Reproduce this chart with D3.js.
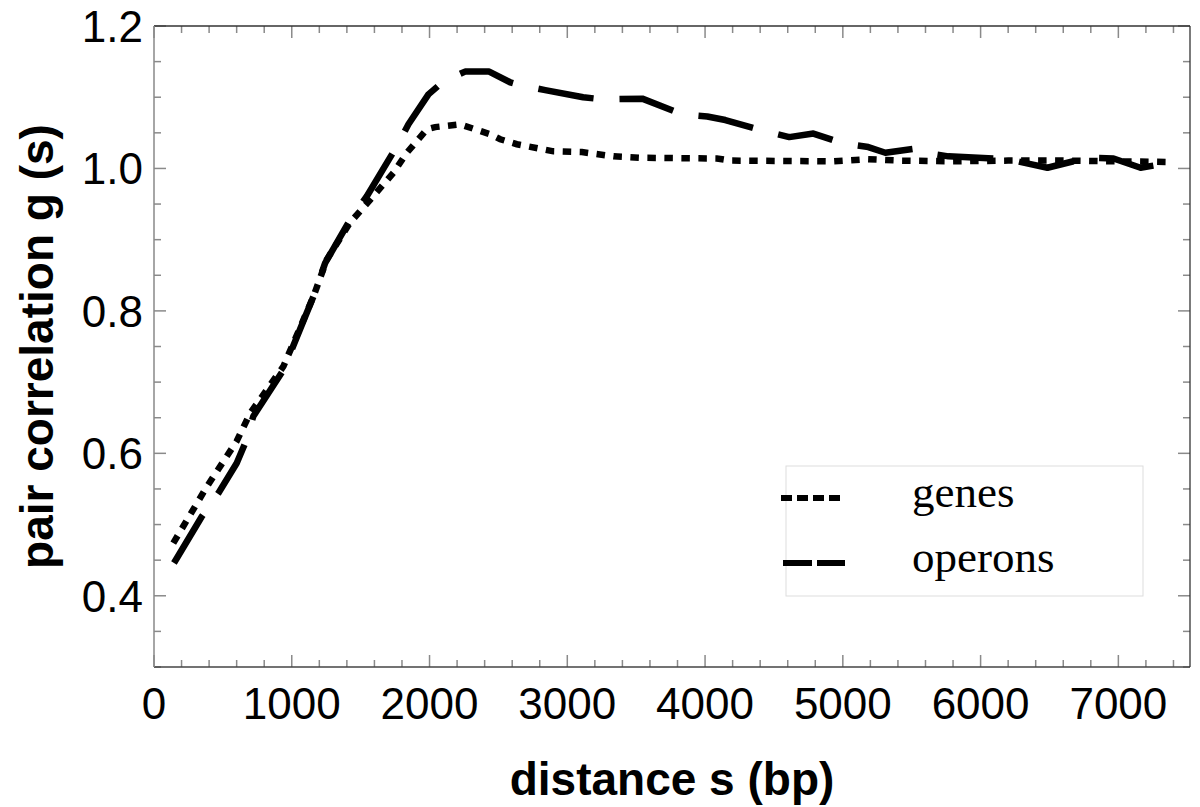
<!DOCTYPE html>
<html>
<head>
<meta charset="utf-8">
<script src="https://cdn.jsdelivr.net/npm/d3@7"></script>
<style>
html,body{margin:0;padding:0;background:#fff;}
svg{display:block;}
</style>
</head>
<body>
<svg id="chart" width="1200" height="807"></svg>
<script>
// ---- data ----
const genesX = [140, 383, 600, 697, 939, 1157, 1254, 1423, 1569, 1738, 1835, 1981, 2041, 2222, 2440, 2513, 2634, 2900, 3106, 3336, 3530, 4086, 4183, 4933, 5176, 5418, 5800, 6200, 6600, 7000, 7378];
const genesY = [0.474, 0.553, 0.617, 0.656, 0.722, 0.820, 0.872, 0.924, 0.956, 0.994, 1.022, 1.055, 1.058, 1.062, 1.048, 1.041, 1.034, 1.024, 1.023, 1.017, 1.015, 1.014, 1.011, 1.010, 1.013, 1.011, 1.010, 1.011, 1.011, 1.010, 1.009];

const operonsX = [145, 346, 467, 600, 661, 721, 939, 1157, 1242, 1423, 1545, 1750, 1847, 1992, 2100, 2258, 2433, 2585, 2658, 2840, 3115, 3253, 3544, 3834, 4016, 4147, 4423, 4611, 4786, 5004, 5185, 5309, 5527, 5600, 5766, 6202, 6362, 6485, 6776, 6965, 7161, 7378];
const operonsY = [0.446, 0.511, 0.544, 0.586, 0.614, 0.652, 0.717, 0.820, 0.867, 0.928, 0.961, 1.027, 1.062, 1.104, 1.122, 1.136, 1.136, 1.121, 1.117, 1.110, 1.100, 1.097, 1.098, 1.076, 1.073, 1.068, 1.053, 1.044, 1.049, 1.035, 1.030, 1.022, 1.028, 1.022, 1.017, 1.013, 1.006, 1.001, 1.015, 1.014, 1.001, 1.008];

const xTickLabels = [0, 1000, 2000, 3000, 4000, 5000, 6000, 7000];
const yTickLabels = [0.4, 0.6, 0.8, 1.0, 1.2];
const seriesNames = ["genes", "operons"];
const xTitle = "distance s (bp)";
const yTitle = "pair correlation g (s)";

// ---- layout ----
const L = 154, R = 1190, T = 26, B = 667;
const svg = d3.select("#chart");
const x = d3.scaleLinear().domain([0, 7520]).range([L, R]);
const y = d3.scaleLinear().domain([0.3, 1.2]).range([B, T]);

// minor / major ticks
const xMinor = d3.range(0, 7501, 200);
const yMinor = d3.range(0.3, 1.2001, 0.05).map(v => +v.toFixed(2));
const isMajorX = v => v % 1000 === 0;
const isMajorY = v => Math.abs(v * 5 - Math.round(v * 5)) < 1e-6 && v >= 0.39;

const tickG = svg.append("g").attr("stroke", "#8a8a8a").attr("stroke-width", 1.5);
xMinor.forEach(v => {
  const len = isMajorX(v) ? 12 : 7;
  const px = x(v);
  tickG.append("line").attr("x1", px).attr("x2", px).attr("y1", B).attr("y2", B - len);
  tickG.append("line").attr("x1", px).attr("x2", px).attr("y1", T).attr("y2", T + len);
});
yMinor.forEach(v => {
  const len = isMajorY(v) ? 12 : 7;
  const py = y(v);
  tickG.append("line").attr("x1", L).attr("x2", L + len).attr("y1", py).attr("y2", py);
  tickG.append("line").attr("x1", R).attr("x2", R - len).attr("y1", py).attr("y2", py);
});

// frame
svg.append("line").attr("x1", L).attr("x2", R).attr("y1", T).attr("y2", T).attr("stroke", "#333").attr("stroke-width", 1.3);
svg.append("line").attr("x1", L).attr("x2", R).attr("y1", B).attr("y2", B).attr("stroke", "#444").attr("stroke-width", 1.3);
svg.append("line").attr("x1", R).attr("x2", R).attr("y1", T).attr("y2", B).attr("stroke", "#333").attr("stroke-width", 1.3);
svg.append("line").attr("x1", L).attr("x2", L).attr("y1", T).attr("y2", B).attr("stroke", "#888").attr("stroke-width", 1.5);

// tick labels
svg.append("g").selectAll("text").data(xTickLabels).join("text")
  .attr("x", d => x(d)).attr("y", 719)
  .attr("text-anchor", "middle")
  .attr("font-family", "Liberation Sans, Arial, sans-serif")
  .attr("font-size", 44).attr("fill", "#000")
  .text(d => d);
svg.append("g").selectAll("text").data(yTickLabels).join("text")
  .attr("x", 143).attr("y", d => y(d) + 16)
  .attr("text-anchor", "end")
  .attr("font-family", "Liberation Sans, Arial, sans-serif")
  .attr("font-size", 44).attr("fill", "#000")
  .text(d => d3.format(".1f")(d));

// axis titles
svg.append("text").attr("x", (L + R) / 2).attr("y", 795)
  .attr("text-anchor", "middle")
  .attr("font-family", "Liberation Sans, Arial, sans-serif")
  .attr("font-weight", "bold").attr("font-size", 46)
  .text(xTitle);
svg.append("text")
  .attr("transform", `translate(53,${(T + B) / 2}) rotate(-90)`)
  .attr("text-anchor", "middle")
  .attr("font-family", "Liberation Sans, Arial, sans-serif")
  .attr("font-weight", "bold").attr("font-size", 46)
  .text(yTitle);

// lines
const line = d3.line().x(d => x(d[0])).y(d => y(d[1]));
const genesPts = genesX.map((v, i) => [v, genesY[i]]);
const operonsPts = operonsX.map((v, i) => [v, operonsY[i]]);

svg.append("path").attr("d", line(operonsPts))
  .attr("fill", "none").attr("stroke", "#000").attr("stroke-width", 6.5)
  .attr("stroke-dasharray", "56,26").attr("stroke-linejoin", "round");
svg.append("path").attr("d", line(genesPts))
  .attr("fill", "none").attr("stroke", "#000").attr("stroke-width", 6.5)
  .attr("stroke-dasharray", "8.5,8.5").attr("stroke-linejoin", "miter");

// legend
svg.append("rect").attr("x", 786).attr("y", 466).attr("width", 357).attr("height", 130)
  .attr("fill", "#fff").attr("stroke", "#ddd").attr("stroke-width", 1);
svg.append("line").attr("x1", 781).attr("x2", 843).attr("y1", 498).attr("y2", 498)
  .attr("stroke", "#000").attr("stroke-width", 6).attr("stroke-dasharray", "11,5");
svg.append("line").attr("x1", 783).attr("x2", 845).attr("y1", 563).attr("y2", 563)
  .attr("stroke", "#000").attr("stroke-width", 6).attr("stroke-dasharray", "29,5");
svg.append("g").selectAll("text").data(seriesNames).join("text")
  .attr("x", 912).attr("y", (d, i) => 507 + i * 65)
  .attr("font-family", "Liberation Serif, Times New Roman, serif")
  .attr("font-size", 45).attr("fill", "#000")
  .text(d => d);
</script>
</body>
</html>
